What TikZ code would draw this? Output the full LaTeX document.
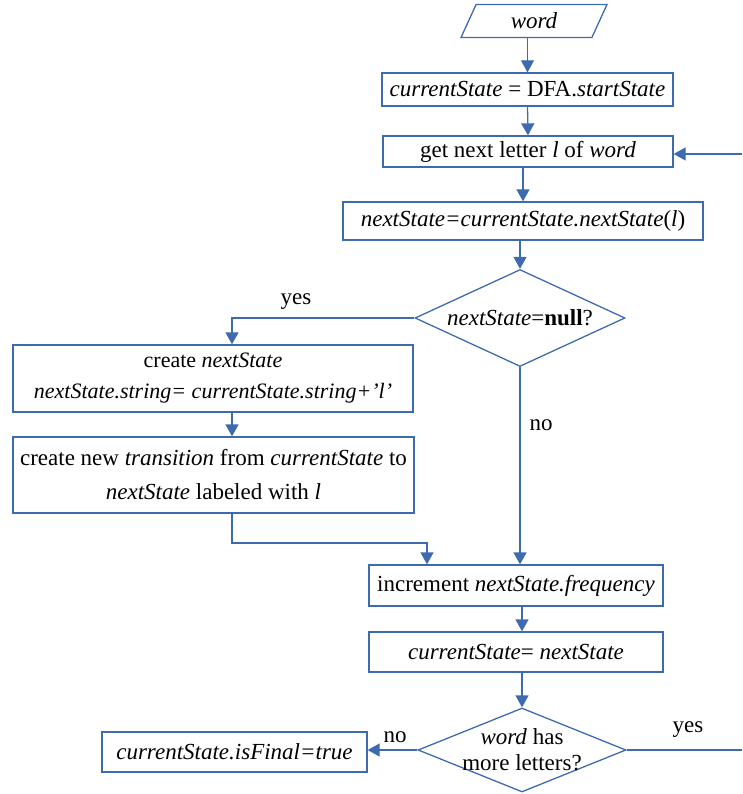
\documentclass[tikz,border=0pt]{standalone}
\usepackage{fontspec}
\setmainfont{Liberation Serif}
\usetikzlibrary{arrows.meta,positioning,shapes.geometric}
\definecolor{flowblue}{RGB}{62,106,176}

\begin{document}
\begin{tikzpicture}[x=1pt,y=-1pt,
      every node/.style={font=\fontsize{23}{30}\selectfont},
      box/.style={draw=flowblue,line width=1.3pt,align=center,inner sep=1pt},
      test/.style={diamond,draw=flowblue,line width=1.3pt,inner sep=0pt},
      arr/.style={-{Triangle[length=12pt,width=13pt]},draw=flowblue,line width=1.3pt}]
    \useasboundingbox (0,0) rectangle (742,794);

    \node[trapezium,trapezium left angle=47,trapezium right angle=133,
          trapezium stretches body,draw=flowblue,line width=1.3pt,
          minimum width=146pt,minimum height=33pt,inner sep=0pt] (word) at (534,21) {\textit{word}};
    \node[box,minimum width=291pt,minimum height=33pt] (init) at (527.5,89.5)
      {\textit{currentState} = DFA.\textit{startState}};
    \node[box,minimum width=290pt,minimum height=31pt] (next) at (528,151.5)
      {get next letter \textit{l} of \textit{word}};
    \node[box,minimum width=360pt,minimum height=38pt] (trans) at (523,221)
      {\textit{nextState=currentState.nextState}(\textit{l})};
    \node[test,minimum width=210pt,minimum height=97pt,
          label={center:\textit{nextState}=\textbf{null}?}] (isnull) at (520,318) {};

    \node[box,minimum width=400pt,minimum height=67pt,
          font=\fontsize{22}{31}\selectfont] (create) at (213,378.5)
      {create \textit{nextState}\\\textit{nextState.string= currentState.string+'l'}};
    \node[box,minimum width=401pt,minimum height=76pt,
          font=\fontsize{23}{34}\selectfont] (newtr) at (213.5,475)
      {create new \textit{transition} from \textit{currentState} to\\\textit{nextState} labeled with \textit{l}};

    \node[box,minimum width=294pt,minimum height=41pt] (incr) at (516,585.5)
      {increment \textit{nextState.frequency}};
    \node[box,minimum width=294pt,minimum height=40pt] (assign) at (516,652)
      {\textit{currentState}= \textit{nextState}};
    \node[test,minimum width=208pt,minimum height=84pt,
          label={[align=center,font=\fontsize{23}{26}\selectfont]center:\textit{word} has\\more letters?}] (more) at (522,750) {};
    \node[box,minimum width=265pt,minimum height=40pt] (final) at (234.5,752)
      {\textit{currentState.isFinal=true}};

    \coordinate (lane) at (232,0);
    \coordinate (join) at (427,543);
    \coordinate (loop) at (742,154);
    \coordinate (back) at (742,750);

    \draw[arr] (word.south -| init.north) -- (init.north);
    \draw[arr] (init.south) -- (next.north);
    \draw[arr] (next.south -| trans.north) -- (trans.north);
    \draw[arr] (trans.south -| isnull.north) -- (isnull.north);
    \draw[arr] (loop) -- (loop -| next.east);

    \draw[arr] (isnull.west) -| (lane |- create.north);
    \draw[arr] (lane |- create.south) -- (lane |- newtr.north);
    \draw[arr] (lane |- newtr.south) |- (join) -- (join |- incr.north);
    \draw[arr] (isnull.south) -- (isnull.south |- incr.north);

    \draw[arr] (incr.south -| more.north) -- (assign.north -| more.north);
    \draw[arr] (assign.south -| more.north) -- (more.north);
    \draw[arr] (more.west) -- (more.west -| final.east);
    \draw[draw=flowblue,line width=1.3pt] (more.east) -- (back);

    \node (yes1) at (296,302) {yes};
    \node (no1) at (541,425) {no};
    \node (no2) at (395,737) {no};
    \node (yes2) at (688,730) {yes};
  \end{tikzpicture}
\end{document}
